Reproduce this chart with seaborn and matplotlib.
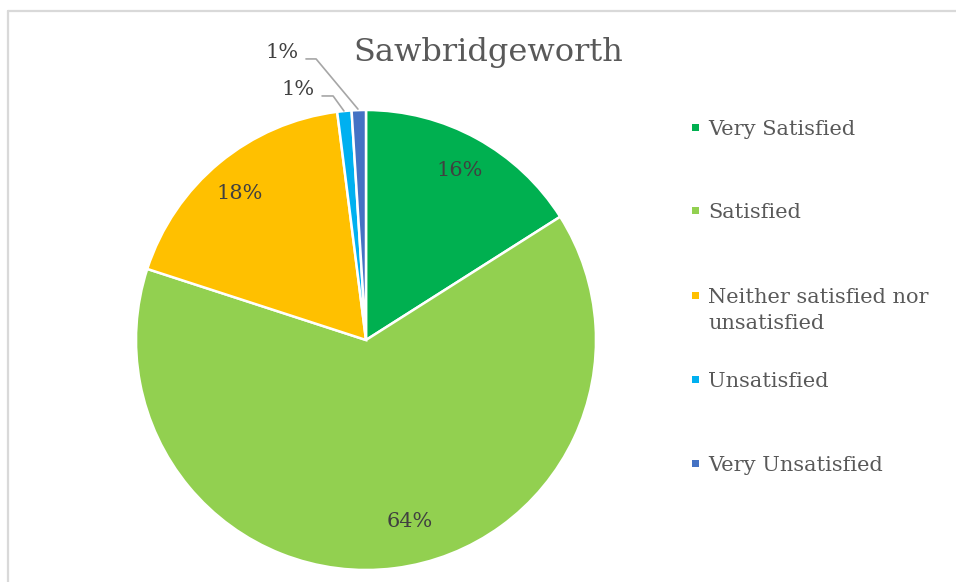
import matplotlib
matplotlib.use("Agg")
import matplotlib.pyplot as plt
from matplotlib.patches import Rectangle
from matplotlib.lines import Line2D
import seaborn as sns

# Survey responses for Sawbridgeworth
title = "Sawbridgeworth"
categories = ["Very Satisfied", "Satisfied", "Neither satisfied nor\nunsatisfied",
              "Unsatisfied", "Very Unsatisfied"]
shares = [16, 64, 18, 1, 1]
colors = ["#00B050", "#92D050", "#FFC000", "#00B0F0", "#4472C4"]

sns.set_theme(style="white")
plt.rcParams["font.family"] = ["DejaVu Serif"]
text_color = "#595959"
label_color = "#404040"

W, H = 956, 582
fig = plt.figure(figsize=(W / 100, H / 100), dpi=100)
fig.patch.set_facecolor("white")

# light chart-area frame (top and left edges visible)
fig.add_artist(Line2D([8 / W, 1.0], [1 - 11 / H, 1 - 11 / H], transform=fig.transFigure,
                      color="#d9d9d9", lw=1.6))
fig.add_artist(Line2D([8 / W, 8 / W], [0.0, 1 - 11 / H], transform=fig.transFigure,
                      color="#d9d9d9", lw=1.6))

# pie axes: centre (366, 340) px, radius 230 px
cx, cy, r = 366, 340, 230
ax = fig.add_axes([(cx - r) / W, (H - cy - r) / H, 2 * r / W, 2 * r / H])
wedges, _ = ax.pie(shares, colors=colors, startangle=90, counterclock=False,
                   radius=1.0, wedgeprops=dict(edgecolor="white", linewidth=1.8))
ax.set_xlim(-1, 1)
ax.set_ylim(-1, 1)
ax.set_aspect("equal")
ax.axis("off")

# percentage labels
label_pos = [(0.409, 0.739), (0.191, -0.787), (-0.548, 0.639), (-0.296, 1.087), (-0.365, 1.248)]
for v, (x, y) in zip(shares, label_pos):
    ax.text(x, y, f"{v}%", ha="center", va="center", fontsize=15, color=label_color,
            clip_on=False)

# leader lines for the two small slices
ax.plot([-0.191, -0.143, -0.096], [1.061, 1.061, 0.996], color="#a6a6a6", lw=1.2,
        clip_on=False)
ax.plot([-0.261, -0.217, -0.035], [1.222, 1.222, 1.004], color="#a6a6a6", lw=1.2,
        clip_on=False)

fig.text(488 / W, 1 - 52 / H, title, ha="center", va="center", fontsize=23, color=text_color)

# legend: small colour squares with labels, one entry per slice
baselines = [135, 218, 303, 387, 471]   # px from top, first text line of each entry
line_gap = 26
for lab, col, base in zip(categories, colors, baselines):
    fig.add_artist(Rectangle((692 / W, 1 - (base - 4.5) / H), 7 / W, 7 / H,
                             transform=fig.transFigure, facecolor=col, edgecolor="none"))
    for j, line in enumerate(lab.split("\n")):
        fig.text(708 / W, 1 - (base + j * line_gap) / H, line, ha="left", va="baseline",
                 fontsize=15, color=text_color)

fig.savefig("out.png", dpi=100, facecolor="white")
